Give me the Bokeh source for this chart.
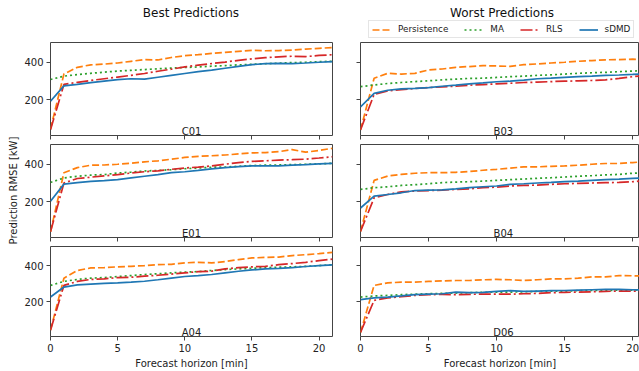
import math
from bokeh.plotting import figure
from bokeh.layouts import row, column
from bokeh.models import Legend, LegendItem, Label, Range1d
from bokeh.embed import file_html
from bokeh.resources import INLINE

horizon = list(range(22))
x_ticks = [0, 5, 10, 15, 20]
y_ticks = [200, 400]
methods = ["Persistence", "MA", "RLS", "sDMD"]
best_sites = ["C01", "E01", "A04"]
worst_sites = ["B03", "B04", "D06"]

per_C01 = [45, 337, 373, 386, 390, 396, 405, 414, 412, 425, 435, 440, 447, 452, 458, 463, 461, 462, 465, 470, 474, 478]
ma_C01 = [308, 326, 334, 341, 347, 353, 357, 361, 365, 369, 372, 375, 379, 382, 386, 389, 392, 395, 398, 400, 403, 405]
rls_C01 = [40, 282, 293, 303, 312, 321, 330, 340, 352, 363, 375, 385, 393, 401, 410, 418, 424, 429, 432, 430, 436, 440]
sdmd_C01 = [192, 274, 282, 291, 299, 307, 312, 310, 320, 330, 340, 350, 358, 368, 378, 387, 393, 394, 393, 396, 400, 403]

per_E01 = [40, 355, 382, 395, 396, 400, 405, 413, 418, 427, 436, 442, 445, 449, 455, 460, 462, 467, 478, 464, 473, 485]
ma_E01 = [303, 327, 336, 342, 345, 353, 358, 364, 367, 371, 376, 380, 384, 385, 389, 393, 395, 396, 398, 400, 402, 405]
rls_E01 = [40, 300, 324, 331, 338, 345, 353, 360, 365, 373, 380, 385, 391, 400, 409, 415, 418, 422, 424, 427, 433, 440]
sdmd_E01 = [203, 294, 302, 309, 313, 318, 327, 336, 345, 355, 360, 367, 375, 382, 387, 391, 391, 391, 395, 398, 402, 405]

per_A04 = [45, 331, 373, 387, 389, 393, 396, 400, 405, 407, 415, 418, 415, 422, 433, 442, 445, 447, 455, 460, 466, 473]
ma_A04 = [291, 313, 324, 331, 334, 340, 345, 351, 355, 360, 364, 367, 373, 378, 382, 385, 389, 391, 393, 396, 400, 405]
rls_A04 = [45, 291, 313, 324, 327, 334, 336, 342, 347, 353, 360, 367, 369, 382, 389, 393, 396, 405, 411, 418, 427, 436]
sdmd_A04 = [227, 282, 294, 298, 302, 305, 309, 314, 322, 331, 340, 345, 351, 360, 369, 376, 382, 385, 389, 395, 400, 404]

per_B03 = [40, 315, 341, 337, 341, 359, 364, 373, 377, 382, 380, 378, 387, 391, 396, 400, 405, 409, 413, 414, 416, 413]
ma_B03 = [270, 279, 287, 292, 297, 301, 306, 310, 314, 315, 319, 323, 326, 330, 333, 337, 341, 344, 346, 350, 353, 355]
rls_B03 = [40, 229, 247, 254, 260, 265, 269, 272, 278, 281, 285, 288, 292, 294, 297, 299, 301, 303, 306, 314, 323, 330]
sdmd_B03 = [162, 234, 251, 258, 261, 265, 272, 278, 285, 290, 296, 299, 305, 312, 315, 319, 323, 326, 330, 332, 335, 339]

per_B04 = [42, 314, 337, 346, 352, 355, 355, 357, 361, 368, 373, 379, 386, 386, 389, 391, 395, 400, 404, 404, 409, 414]
ma_B04 = [266, 275, 280, 287, 291, 296, 302, 305, 307, 310, 314, 318, 321, 325, 328, 332, 336, 339, 343, 346, 352, 355]
rls_B04 = [42, 221, 239, 253, 257, 260, 262, 266, 269, 275, 278, 284, 287, 289, 293, 296, 298, 300, 302, 303, 307, 314]
sdmd_B04 = [167, 230, 239, 248, 260, 262, 264, 269, 275, 280, 284, 293, 296, 300, 303, 307, 310, 314, 318, 321, 325, 328]

per_D06 = [32, 291, 305, 309, 309, 313, 316, 318, 318, 322, 324, 322, 318, 322, 327, 327, 331, 338, 338, 345, 344, 342]
ma_D06 = [227, 233, 236, 240, 243, 245, 247, 249, 251, 253, 254, 254, 256, 258, 260, 260, 262, 263, 263, 265, 265, 267]
rls_D06 = [32, 209, 222, 229, 236, 240, 242, 240, 242, 243, 243, 243, 245, 247, 251, 253, 254, 256, 258, 260, 260, 260]
sdmd_D06 = [213, 222, 227, 233, 240, 243, 245, 254, 251, 253, 258, 262, 258, 260, 262, 263, 265, 267, 269, 269, 267, 265]

series = {
    "C01": [per_C01, ma_C01, rls_C01, sdmd_C01],
    "E01": [per_E01, ma_E01, rls_E01, sdmd_E01],
    "A04": [per_A04, ma_A04, rls_A04, sdmd_A04],
    "B03": [per_B03, ma_B03, rls_B03, sdmd_B03],
    "B04": [per_B04, ma_B04, rls_B04, sdmd_B04],
    "D06": [per_D06, ma_D06, rls_D06, sdmd_D06],
}

colors = ["#ff7f0e", "#2ca02c", "#d62728", "#1f77b4"]
dashes = ["7 3", "2 3", "12 3 2 3", "solid"]
LW = 1.7
FONT = "DejaVu Sans"
AX = "#444444"
TXT = "#222222"

FRAMES = [93, 93, 92]
BOTS = [9, 9, 33]
HEADER_H = 42
YLAB_W = 21


def make_fig(col, r, site):
    left = col == 0
    p = figure(
        width=331 if left else 287,
        height=FRAMES[r] + BOTS[r],
        x_range=(0, 21) if left else (0, 20.5),
        y_range=(10, 505),
        output_backend="svg",
        toolbar_location=None,
        min_border_left=28 if left else 8,
        min_border_right=20 if left else 0,
        min_border_top=0,
        min_border_bottom=BOTS[r],
    )
    p.background_fill_color = "white"
    p.border_fill_color = "white"
    p.outline_line_color = AX
    p.outline_line_width = 1
    p.xgrid.visible = False
    p.ygrid.visible = False
    for ax in (p.xaxis, p.yaxis):
        ax.axis_line_color = None
        ax.major_tick_line_color = AX
        ax.major_tick_out = 4
        ax.major_tick_in = 0
        ax.minor_tick_line_color = None
        ax.major_label_text_font = FONT
        ax.major_label_text_font_size = "10px"
        ax.major_label_text_color = TXT
        ax.major_label_standoff = 3
        ax.axis_label_text_font = FONT
        ax.axis_label_text_font_size = "10px"
        ax.axis_label_text_font_style = "normal"
        ax.axis_label_text_color = TXT
        ax.axis_label_standoff = 3
    p.xaxis.ticker = x_ticks
    p.yaxis.ticker = y_ticks
    if r < 2:
        p.xaxis.major_label_text_font_size = "1px"
        p.xaxis.major_label_text_alpha = 0
        p.xaxis.major_label_standoff = 0
    else:
        p.xaxis.axis_label = "Forecast horizon [min]"
    if not left:
        p.yaxis.major_label_text_font_size = "1px"
        p.yaxis.major_label_text_alpha = 0
        p.yaxis.major_label_standoff = 0

    for vals, c, d in zip(series[site], colors, dashes):
        p.line(horizon, vals, line_color=c, line_width=LW, line_dash=d)

    p.add_layout(Label(x=10.5, y=31, text=site, text_align="center",
                       text_baseline="alphabetic", text_font=FONT,
                       text_font_size="10px", text_color=TXT))
    return p


# header with the two column titles and the legend
header = figure(width=YLAB_W + 331 + 287, height=HEADER_H, x_range=(0, 639), y_range=(0, HEADER_H),
                x_axis_type=None, y_axis_type=None, output_backend="svg", toolbar_location=None,
                min_border=0, outline_line_color=None)
header.xgrid.visible = False
header.ygrid.visible = False
header.add_layout(Label(x=190.5, y=HEADER_H - 12, text="Best Predictions", text_align="center",
                        text_baseline="middle", text_font=FONT, text_font_size="12px",
                        text_color="#111111"))
header.add_layout(Label(x=501.5, y=HEADER_H - 12, text="Worst Predictions", text_align="center",
                        text_baseline="middle", text_font=FONT, text_font_size="12px",
                        text_color="#111111"))
# legend samples: the B03 series drawn on a range that keeps them out of view
header.extra_y_ranges = {"offscreen": Range1d(5000, 6000)}
legend_rends = [header.line(horizon, vals, line_color=c, line_width=LW, line_dash=d,
                            y_range_name="offscreen")
                for vals, c, d in zip(series["B03"], colors, dashes)]
legend = Legend(
    items=[LegendItem(label=m, renderers=[rr]) for m, rr in zip(methods, legend_rends)],
    orientation="horizontal", location=(368, 4),
    label_text_font=FONT, label_text_font_size="8.8px", label_text_color=TXT,
    glyph_width=19, glyph_height=9, label_height=9, label_width=5, label_standoff=7,
    spacing=16, padding=3, margin=0,
    border_line_color="#cccccc", border_line_width=1,
    background_fill_color="white", background_fill_alpha=1,
)
header.add_layout(legend)

# vertical y-axis label spanning the three rows
ylab_h = sum(FRAMES) + sum(BOTS)
ylab = figure(width=YLAB_W, height=ylab_h, x_range=(0, YLAB_W), y_range=(0, ylab_h),
              x_axis_type=None, y_axis_type=None, output_backend="svg", toolbar_location=None,
              min_border=0, outline_line_color=None)
ylab.xgrid.visible = False
ylab.ygrid.visible = False
ylab.add_layout(Label(x=13, y=ylab_h - 148, text="Prediction RMSE [kW]", angle=math.pi / 2,
                      text_align="center", text_baseline="middle", text_font=FONT,
                      text_font_size="10px", text_color=TXT))

rows = []
for r in range(3):
    rows.append(row(make_fig(0, r, best_sites[r]), make_fig(1, r, worst_sites[r])))

layout = column(header, row(ylab, column(*rows)))
open("out.html", "w").write(file_html(layout, INLINE))
